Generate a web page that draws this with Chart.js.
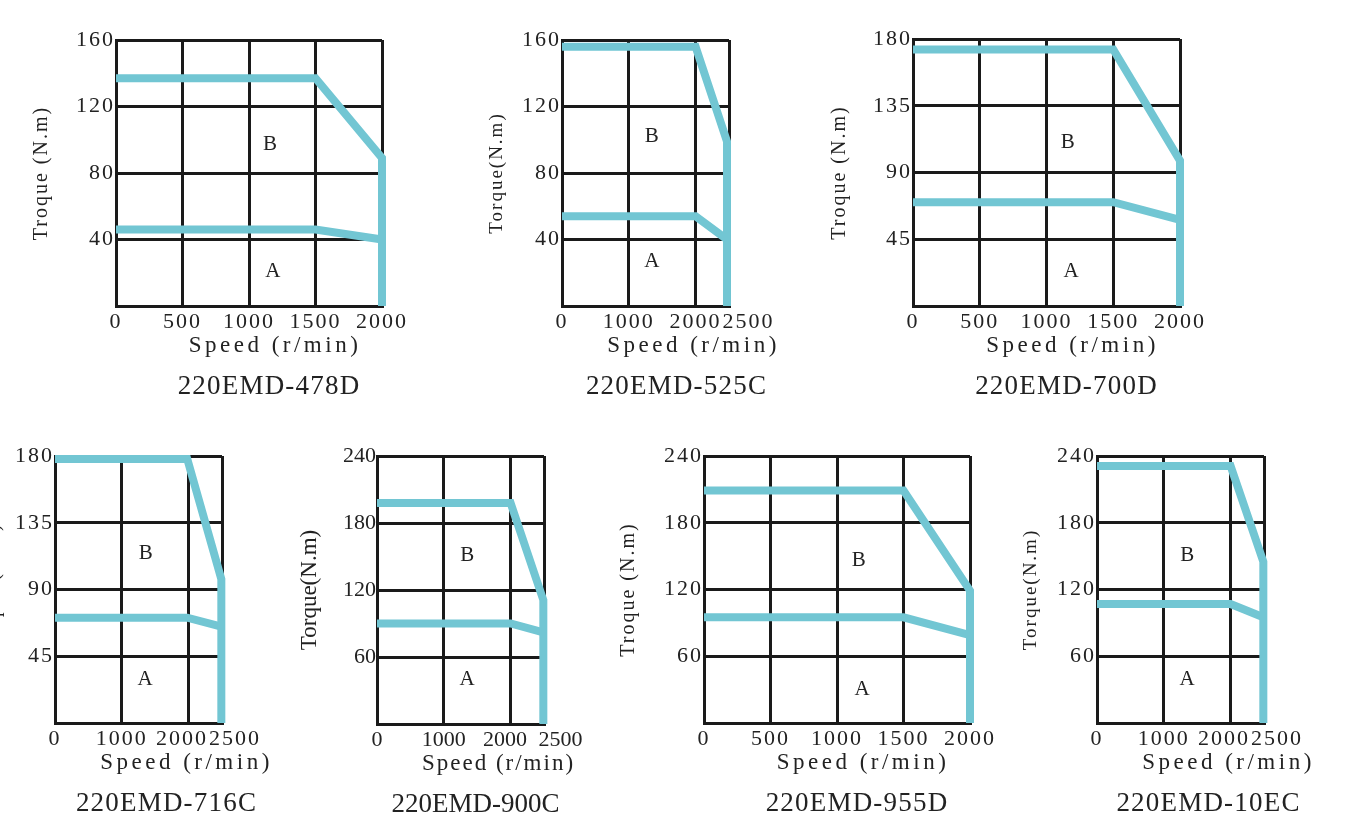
<!DOCTYPE html>
<html>
<head>
<meta charset="utf-8">
<title>220EMD torque-speed curves</title>
<script src="https://cdn.jsdelivr.net/npm/chart.js@4.4.1/dist/chart.umd.min.js"></script>
<style>
  html, body { margin: 0; padding: 0; background: #fff; }
  body { position: relative; width: 1354px; height: 835px; overflow: hidden; }
  canvas { position: absolute; }
</style>
</head>
<body>
<script>
// ============================================================
//  220EMD servo motors — torque / speed envelopes
//  B = peak (intermittent) zone, A = rated (continuous) zone
// ============================================================

// ── Data ────────────────────────────────────────────────────
const models  = ['220EMD-478D', '220EMD-525C', '220EMD-700D', '220EMD-716C', '220EMD-900C', '220EMD-955D', '220EMD-10EC'];
const yTitles = ['Troque (N.m)', 'Torque(N.m)', 'Troque (N.m)', 'Troque (N.m)', 'Torque(N.m)', 'Troque (N.m)', 'Torque(N.m)'];
const xTitle  = 'Speed (r/min)';
const xMaxes  = [2000, 2500, 2000, 2500, 2500, 2000, 2500];
const yMaxes  = [160, 160, 180, 180, 240, 240, 240];

const xTicks2000 = [0, 500, 1000, 1500, 2000];
const xTicks2500 = [0, 1000, 2000, 2500];
const yTicks160  = [40, 80, 120, 160];
const yTicks180  = [45, 90, 135, 180];
const yTicks240  = [60, 120, 180, 240];

// speed points (r/min); the peak curve ends with a drop to zero
const speed478 = [0, 1500, 2000, 2000];
const peak478  = [137, 137, 89, 0];
const rated478 = [46, 46, 40];

const speed525 = [0, 2000, 2470, 2470];
const peak525  = [156, 156, 99, 0];
const rated525 = [54, 54, 40];

const speed700 = [0, 1500, 2000, 2000];
const peak700  = [173, 173, 98, 0];
const rated700 = [70, 70, 58];

const speed716 = [0, 1980, 2490, 2490];
const peak716  = [178, 178, 97, 0];
const rated716 = [71, 71, 65];

const speed900 = [0, 2000, 2490, 2490];
const peak900  = [198, 198, 111, 0];
const rated900 = [90, 90, 82];

const speed955 = [0, 1500, 2000, 2000];
const peak955  = [209, 209, 119, 0];
const rated955 = [95, 95, 79];

const speed10E = [0, 2000, 2490, 2490];
const peak10E  = [231, 231, 145, 0];
const rated10E = [107, 107, 95];

// zone letters, [speed, torque]
const zoneB = [[1158, 97], [1345, 102], [1160, 110], [1360, 114], [1350, 151], [1163, 146], [1350, 151]];
const zoneA = [[1180, 21], [1345, 27], [1185, 23], [1350, 29], [1350, 40], [1188, 30], [1350, 39]];

const speeds = [speed478, speed525, speed700, speed716, speed900, speed955, speed10E];
const peaks  = [peak478, peak525, peak700, peak716, peak900, peak955, peak10E];
const rateds = [rated478, rated525, rated700, rated716, rated900, rated955, rated10E];
const xTickSets = [xTicks2000, xTicks2500, xTicks2000, xTicks2500, xTicks2500, xTicks2000, xTicks2500];
const yTickSets = [yTicks160, yTicks160, yTicks180, yTicks180, yTicks240, yTicks240, yTicks240];

// ── Look ────────────────────────────────────────────────────
const LINE  = '#72c6d3';
const INK   = '#222';
const GRID  = '#1a1a1a';
const SERIF = '"Liberation Serif", "Times New Roman", serif';

// plot box [left, top, right, bottom] on the page, y-title centre x,
// tick letter spacing, caption offsets from plot centre, label nudges
const panels = [
  { box: [116, 40, 382, 306],    titleX: 42,   titleSize: 20, ls: 2, axisDx: 26, nameDx: 20, axisLs: 3.5, nameLs: 1.2, nudge: {} },
  { box: [562, 40, 729, 306],    titleX: 497,  titleSize: 19, ls: 2, axisDx: 48, nameDx: 31, axisLs: 3.5, nameLs: 1.2, nudge: { 2500: 3 } },
  { box: [913, 39, 1180, 306],   titleX: 840,  titleSize: 20, ls: 2, axisDx: 26, nameDx: 20, axisLs: 3.5, nameLs: 1.2, nudge: {} },
  { box: [55, 456, 222, 723],    titleX: -6,   titleSize: 20, ls: 2, axisDx: 48, nameDx: 28, axisLs: 3.5, nameLs: 1.2, nudge: { 2000: -1, 2500: 2 } },
  { box: [377, 456, 544, 724],   titleX: 310,  titleSize: 23, ls: 0, axisDx: 38, nameDx: 15, axisLs: 2,   nameLs: 0,   nudge: { 2000: -1, 2500: 3 } },
  { box: [704, 456, 970, 723],   titleX: 629,  titleSize: 20, ls: 2, axisDx: 26, nameDx: 20, axisLs: 3.5, nameLs: 1.2, nudge: {} },
  { box: [1097, 456, 1264, 723], titleX: 1031, titleSize: 19, ls: 2, axisDx: 48, nameDx: 28, axisLs: 3.5, nameLs: 1.2, nudge: { 2000: -1, 2500: 2 } },
];

const PAD_L = 110, PAD_T = 20, PAD_R = 60, X_H = 30, PAD_B = 80;
const FIG_SPACE = '\u2007';

function nudged(v, n) {
  const s = String(v);
  if (!n) return s;
  return n > 0 ? FIG_SPACE.repeat(n) + s : s + FIG_SPACE.repeat(-n);
}

// ── Plugins ─────────────────────────────────────────────────
// canvas-wide letter spacing (ticks + axis title)
const spacing = {
  id: 'spacing',
  beforeUpdate(chart, args, o) { chart.ctx.letterSpacing = o.px + 'px'; },
  beforeDraw(chart, args, o)   { chart.ctx.letterSpacing = o.px + 'px'; }
};

// speed caption, model name and the A / B zone letters
const captions = {
  id: 'captions',
  afterDraw(chart, args, o) {
    const { ctx, chartArea: a, scales: { x, y } } = chart;
    const cx = (a.left + a.right) / 2;
    ctx.save();
    ctx.fillStyle = INK;
    ctx.textAlign = 'center';
    ctx.textBaseline = 'alphabetic';

    ctx.font = `23px ${SERIF}`;
    ctx.letterSpacing = o.axisLs + 'px';
    ctx.fillText(o.axis, cx + o.axisDx, a.bottom + 46);

    ctx.font = `27px ${SERIF}`;
    ctx.letterSpacing = o.nameLs + 'px';
    ctx.fillText(o.name, cx + o.nameDx, a.bottom + 88);

    ctx.font = `21px ${SERIF}`;
    ctx.letterSpacing = '0px';
    ctx.textBaseline = 'middle';
    for (const [t, p] of o.zones) {
      ctx.fillText(t, x.getPixelForValue(p[0]), y.getPixelForValue(p[1]));
    }
    ctx.restore();
  }
};

// ── Build ───────────────────────────────────────────────────
models.forEach((name, i) => {
  const P = panels[i];
  const [l, t, r, b] = P.box;
  const speed = speeds[i];

  const cv = document.createElement('canvas');
  cv.width = r - l + PAD_L + PAD_R;
  cv.height = b - t + PAD_T + X_H + PAD_B;
  cv.style.left = (l - PAD_L) + 'px';
  cv.style.top = (t - PAD_T) + 'px';
  document.body.appendChild(cv);

  const lineStyle = {
    showLine: true,
    clip: false,
    borderColor: LINE,
    borderWidth: 8,
    borderJoinStyle: 'miter',
    borderCapStyle: 'butt',
    pointRadius: 0,
    tension: 0
  };

  new Chart(cv, {
    type: 'scatter',
    data: {
      datasets: [
        { ...lineStyle, label: 'B', data: peaks[i].map((v, k) => ({ x: speed[k], y: v })) },
        { ...lineStyle, label: 'A', data: rateds[i].map((v, k) => ({ x: speed[k], y: v })) }
      ]
    },
    options: {
      responsive: false,
      animation: false,
      events: [],
      layout: { padding: { left: 0, top: PAD_T, right: PAD_R, bottom: PAD_B } },
      plugins: {
        legend: { display: false },
        tooltip: { enabled: false },
        spacing: { px: P.ls },
        captions: {
          axis: xTitle, name, axisDx: P.axisDx, nameDx: P.nameDx,
          axisLs: P.axisLs, nameLs: P.nameLs,
          zones: [['B', zoneB[i]], ['A', zoneA[i]]]
        }
      },
      scales: {
        x: {
          type: 'linear',
          min: 0,
          max: xMaxes[i],
          afterBuildTicks: sc => { sc.ticks = xTickSets[i].map(value => ({ value })); },
          afterFit: sc => { sc.height = X_H; },
          grid: { color: GRID, lineWidth: 3, drawTicks: false },
          border: { color: GRID, width: 3 },
          ticks: {
            autoSkip: false, minRotation: 0, maxRotation: 0, padding: 3,
            color: INK, font: { family: SERIF, size: 22 },
            callback: v => nudged(v, P.nudge[v])
          }
        },
        y: {
          type: 'linear',
          min: 0,
          max: yMaxes[i],
          afterBuildTicks: sc => { sc.ticks = yTickSets[i].map(value => ({ value })); },
          afterFit: sc => { sc.width = PAD_L; },
          grid: { color: GRID, lineWidth: 3, drawTicks: false },
          border: { color: GRID, width: 3 },
          ticks: { padding: 1, color: INK, font: { family: SERIF, size: 22 } },
          title: {
            display: true,
            text: yTitles[i],
            color: INK,
            font: { family: SERIF, size: P.titleSize },
            padding: { top: P.titleX - (l - PAD_L) - P.titleSize * 0.6, bottom: 0 }
          }
        }
      }
    },
    plugins: [spacing, captions]
  });
});
</script>
</body>
</html>
